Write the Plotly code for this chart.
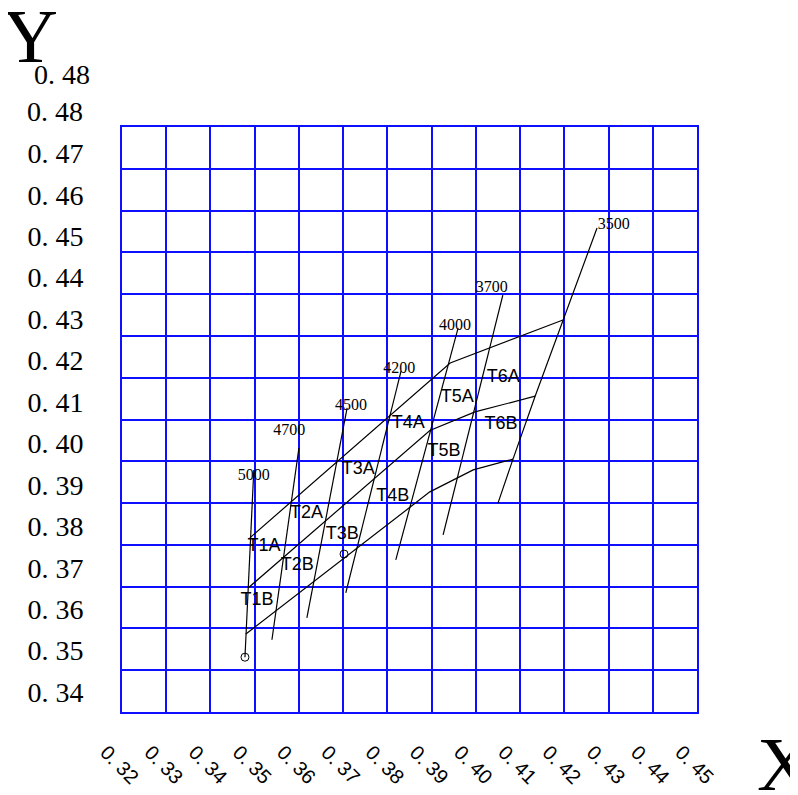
import numpy as np
import plotly.graph_objects as go

# ---------------- data ----------------
x_ticks = [0.32, 0.33, 0.34, 0.35, 0.36, 0.37, 0.38, 0.39, 0.40, 0.41, 0.42, 0.43, 0.44, 0.45]
x_ticktext = ["0. 32", "0. 33", "0. 34", "0. 35", "0. 36", "0. 37", "0. 38",
              "0. 39", "0. 40", "0. 41", "0. 42", "0. 43", "0. 44", "0. 45"]
y_ticks = [0.34, 0.35, 0.36, 0.37, 0.38, 0.39, 0.40, 0.41, 0.42, 0.43, 0.44, 0.45, 0.46, 0.47, 0.48]
y_ticktext = ["0. 34", "0. 35", "0. 36", "0. 37", "0. 38", "0. 39", "0. 40", "0. 41",
              "0. 42", "0. 43", "0. 44", "0. 45", "0. 46", "0. 47", "0. 48"]

# iso-CCT lines (top point -> bottom point)
cct_names = ["5000", "4700", "4500", "4200", "4000", "3700", "3500"]
cct_x = [[0.3498, 0.3478],
         [0.3600, 0.3539],
         [0.3709, 0.3618],
         [0.3831, 0.3706],
         [0.3960, 0.3819],
         [0.4061, 0.3926],
         [0.4274, 0.4197, 0.4134, 0.4084, 0.4050]]
cct_y = [[0.3936, 0.3484],
         [0.3989, 0.3526],
         [0.4086, 0.3579],
         [0.4175, 0.3639],
         [0.4279, 0.3719],
         [0.4358, 0.3779],
         [0.4520, 0.4298, 0.4114, 0.3962, 0.3856]]
cct_label_x = [0.3498, 0.3578, 0.3718, 0.3827, 0.3953, 0.4036, 0.4312]
cct_label_y = [0.3922, 0.4029, 0.4091, 0.4180, 0.4284, 0.4376, 0.4528]

# bin boundary lines (upper, middle, lower)
upper_x = [0.3489, 0.3942, 0.4197]
upper_y = [0.3772, 0.4194, 0.4298]
middle_x = [0.3485, 0.3896, 0.3998, 0.4134]
middle_y = [0.3651, 0.4031, 0.4076, 0.4114]
lower_x = [0.3480, 0.3896, 0.3994, 0.4084]
lower_y = [0.3540, 0.3883, 0.3936, 0.3962]

# bin labels
bin_names = ["T1A", "T2A", "T3A", "T4A", "T5A", "T6A",
             "T1B", "T2B", "T3B", "T4B", "T5B", "T6B"]
bin_x = [0.3521, 0.3617, 0.3734, 0.3847, 0.3958, 0.4062,
         0.3505, 0.3596, 0.3698, 0.3812, 0.3928, 0.4057]
bin_y = [0.3750, 0.3832, 0.3936, 0.4047, 0.4110, 0.4158,
         0.3622, 0.3706, 0.3779, 0.3873, 0.3980, 0.4045]

# marked points
pt_x = [0.3478, 0.3702]
pt_y = [0.3484, 0.3733]

# ---------------- figure ----------------
BLUE = "#0f0fff"
fig = go.Figure()

for xs, ys in zip(cct_x, cct_y):
    fig.add_trace(go.Scatter(x=xs, y=ys, mode="lines",
                             line=dict(color="black", width=1.2),
                             hoverinfo="skip", showlegend=False))
for xs, ys in [(upper_x, upper_y), (middle_x, middle_y), (lower_x, lower_y)]:
    fig.add_trace(go.Scatter(x=xs, y=ys, mode="lines",
                             line=dict(color="black", width=1.2),
                             hoverinfo="skip", showlegend=False))

fig.add_trace(go.Scatter(x=pt_x, y=pt_y, mode="markers",
                         marker=dict(symbol="circle-open", size=8,
                                     color="black", line=dict(width=1)),
                         showlegend=False))

fig.add_trace(go.Scatter(x=bin_x, y=bin_y, mode="text", text=bin_names,
                         textfont=dict(family="Liberation Sans", size=18, color="black"),
                         showlegend=False))
fig.add_trace(go.Scatter(x=cct_label_x, y=cct_label_y, mode="text", text=cct_names,
                         textfont=dict(family="Liberation Serif", size=16, color="black"),
                         showlegend=False))

y_lo, y_hi = 0.33517, 0.47637
y_grid = list(np.linspace(y_lo, y_hi, 15))

# page body has an 8px default margin: the figure is sized/offset to compensate
fig.update_layout(
    width=790, height=787,
    margin=dict(l=114, r=101, t=119, b=83),
    paper_bgcolor="white", plot_bgcolor="white",
    xaxis=dict(range=[0.32, 0.45], tickmode="array", tickvals=x_ticks, ticktext=x_ticktext,
               tickangle=45, tickfont=dict(family="Liberation Sans", size=20, color="black"),
               showgrid=True, gridcolor=BLUE, gridwidth=1.5, zeroline=False,
               showline=True, mirror=True, linecolor=BLUE, linewidth=1.6,
               ticks="", ticklabelstandoff=19, ticklabelshift=-16, automargin=False),
    yaxis=dict(range=[y_lo, y_hi], tickmode="array", tickvals=y_ticks[:-1], ticktext=y_ticktext[:-1],
               tickfont=dict(family="Liberation Serif", size=28, color="black"),
               showgrid=False, zeroline=False,
               minor=dict(tickmode="array", tickvals=y_grid, showgrid=True,
                          gridcolor=BLUE, gridwidth=1.5, ticks=""),
               showline=True, mirror=True, linecolor=BLUE, linewidth=1.6,
               ticks="", ticklabelstandoff=31, automargin=False),
    annotations=[
        # top tick label (lies above the grid frame)
        dict(text=y_ticktext[-1], x=(85 - 122) / 575,
             y=(y_ticks[-1] - y_lo) / (y_hi - y_lo), xref="paper", yref="paper",
             showarrow=False, xanchor="right", yanchor="middle",
             font=dict(family="Liberation Serif", size=28, color="black")),
        dict(text="Y", x=-0.159, y=1.155, xref="paper", yref="paper", showarrow=False,
             xanchor="center", yanchor="middle",
             font=dict(family="Liberation Serif", size=76, color="black")),
        dict(text="0. 48", x=-0.1043, y=1.0889, xref="paper", yref="paper", showarrow=False,
             xanchor="center", yanchor="middle",
             font=dict(family="Liberation Serif", size=28, color="black")),
        dict(text="X", x=1.153, y=-0.0889, xref="paper", yref="paper", showarrow=False,
             xanchor="center", yanchor="middle",
             font=dict(family="Liberation Serif", size=76, color="black")),
    ],
)

fig.write_html("out.html")
